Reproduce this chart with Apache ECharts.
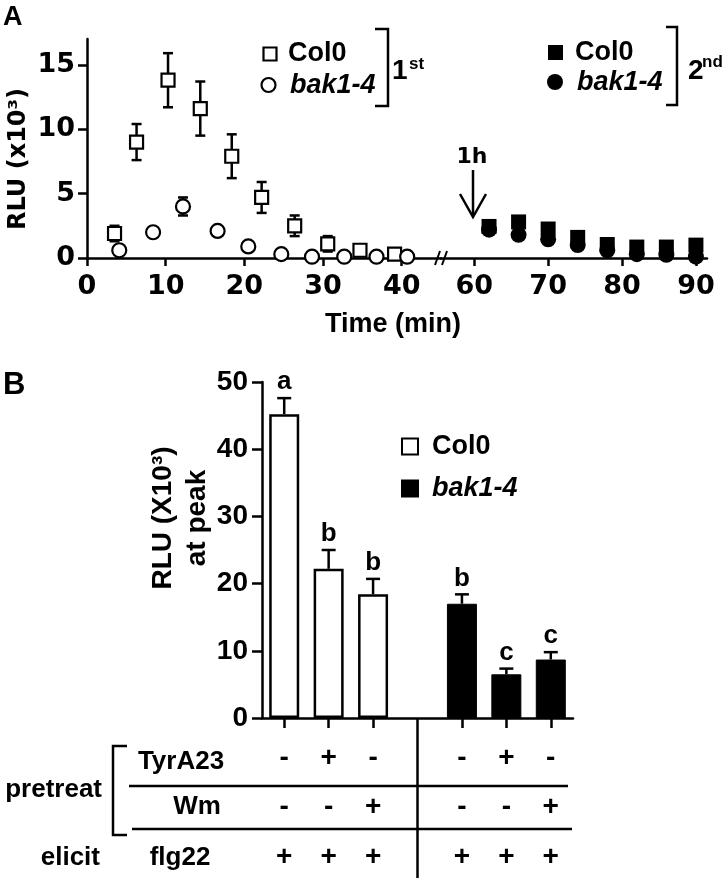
<!DOCTYPE html>
<html>
<head>
<meta charset="utf-8">
<script src="https://cdn.jsdelivr.net/npm/echarts@6/dist/echarts.min.js"></script>
<style>
  html, body { margin: 0; background: #fff; }
  #chart { width: 728px; height: 881px; }
</style>
</head>
<body>
<div id="chart"></div>
<script>
// ---- panel A: ROS time course, RLU (x10^3) vs time (min)
const col0FirstTime = [3.5, 6.3, 10.3, 14.4, 18.4, 22.2, 26.4, 30.6, 34.7, 39.1];
const col0FirstRlu = [1.9, 9.0, 13.8, 11.6, 7.9, 4.7, 2.5, 1.1, 0.6, 0.3];
const col0FirstErr = [0.6, 1.4, 2.1, 2.1, 1.7, 1.2, 0.8, 0.6, 0.2, 0.1];
const bakFirstTime = [4.1, 8.4, 12.2, 16.6, 20.5, 24.7, 28.6, 32.7, 36.8, 40.7];
const bakFirstRlu = [0.6, 2.0, 4.0, 2.1, 0.9, 0.3, 0.1, 0.1, 0.1, 0.1];
const bakFirstErr = [0.1, 0.2, 0.7, 0.2, 0.2, 0.1, 0, 0, 0, 0];
const secondTime = [62, 66, 70, 74, 78, 82, 86, 90];
const col0SecondRlu = [2.45, 2.8, 2.25, 1.6, 1.05, 0.85, 0.85, 1.0];
const bakSecondRlu = [2.2, 1.8, 1.45, 1.0, 0.6, 0.3, 0.25, 0.1];
const timeTicksFirst = [0, 10, 20, 30, 40];
const timeTicksSecond = [60, 70, 80, 90];
const rluTicksA = [0, 5, 10, 15];

// ---- panel B: RLU at peak, 7 slots (4th is the gap between genotypes)
const barSlots = ['c1', 'c2', 'c3', 'gap', 'k1', 'k2', 'k3'];
const peakCol0 = [45.2, 22.2, 18.4];
const peakCol0Err = [2.4, 2.8, 2.3];
const peakCol0Letters = ['a', 'b', 'b'];
const peakBak = [17.0, 6.5, 8.7];
const peakBakErr = [1.4, 0.85, 1.1];
const peakBakLetters = ['b', 'c', 'c'];
const tyrRow = ['-', '+', '-', '', '-', '+', '-'];
const wmRow = ['-', '-', '+', '', '-', '-', '+'];
const flgRow = ['+', '+', '+', '', '+', '+', '+'];

const SANS = 'Liberation Sans';
const WIDE = 'DejaVu Sans';
const BLACK = '#000';

const chart = echarts.init(document.getElementById('chart'), null, { renderer: 'canvas' });

function pairs(xs, ys, es) {
  return xs.map((x, i) => es ? [x, ys[i], es[i]] : [x, ys[i]]);
}

// two-sided error bar with caps (panel A)
function errBarA(params, api) {
  const x = api.value(0), y = api.value(1), e = api.value(2);
  if (!e) return null;
  const hi = api.coord([x, y + e]);
  const lo = api.coord([x, y - e]);
  const w = 5;
  const st = { stroke: BLACK, lineWidth: 2.5 };
  return {
    type: 'group',
    children: [
      { type: 'line', shape: { x1: hi[0], y1: hi[1], x2: lo[0], y2: lo[1] }, style: st },
      { type: 'line', shape: { x1: hi[0] - w, y1: hi[1], x2: hi[0] + w, y2: hi[1] }, style: st },
      { type: 'line', shape: { x1: lo[0] - w, y1: lo[1], x2: lo[0] + w, y2: lo[1] }, style: st }
    ]
  };
}

// upward error bar + significance letter (panel B)
const errB = [];
const lettersB = [];
peakCol0.forEach((v, i) => { errB.push([barSlots[i], v, peakCol0Err[i]]); lettersB.push(peakCol0Letters[i]); });
peakBak.forEach((v, i) => { errB.push([barSlots[i + 4], v, peakBakErr[i]]); lettersB.push(peakBakLetters[i]); });

function errBarB(params, api) {
  const x = api.value(0), y = api.value(1), e = api.value(2);
  const top = api.coord([x, y]);
  const cap = api.coord([x, y + e]);
  const w = 7;
  const st = { stroke: BLACK, lineWidth: 2.5 };
  return {
    type: 'group',
    children: [
      { type: 'line', shape: { x1: top[0], y1: top[1], x2: cap[0], y2: cap[1] }, style: st },
      { type: 'line', shape: { x1: cap[0] - w, y1: cap[1], x2: cap[0] + w, y2: cap[1] }, style: st },
      {
        type: 'text', x: cap[0], y: cap[1] - 3,
        style: {
          text: lettersB[params.dataIndex], fill: BLACK, fontSize: 26, fontWeight: 'bold',
          fontFamily: SANS, align: 'center', verticalAlign: 'bottom'
        }
      }
    ]
  };
}

const axisLineA = { lineStyle: { color: BLACK, width: 2.5 } };
const tickLabelA = { color: BLACK, fontFamily: WIDE, fontWeight: 'bold', fontSize: 27 };

function rowAxis(row, offset) {
  return {
    gridIndex: 2, type: 'category', data: barSlots, position: 'bottom', offset: offset,
    axisLine: { show: false }, axisTick: { show: false }, splitLine: { show: false },
    axisLabel: {
      interval: 0, margin: 0, verticalAlign: 'middle',
      formatter: (v, i) => row[i],
      color: BLACK, fontFamily: SANS, fontWeight: 'bold', fontSize: 28
    }
  };
}

const col0Bars = barSlots.map((s, i) => (i < 3 ? peakCol0[i] : '-'));
const bakBars = barSlots.map((s, i) => (i > 3 ? peakBak[i - 4] : '-'));

const option = {
  animation: false,
  backgroundColor: '#fff',
  grid: [
    { left: 87, top: 39, width: 354, height: 219 },
    { left: 441, top: 39, width: 266, height: 219 },
    { left: 262, top: 382, width: 311, height: 336 }
  ],
  legend: {
    data: ['Col0', 'bak1-4'],
    orient: 'vertical',
    left: 396, top: 428,
    itemWidth: 16, itemHeight: 16, itemGap: 15,
    icon: 'rect',
    selectedMode: false,
    formatter: n => (n === 'bak1-4' ? '{i|bak1-4}' : n),
    textStyle: {
      color: BLACK, fontFamily: SANS, fontWeight: 'bold', fontSize: 27, padding: [0, 0, 0, 9],
      rich: { i: { fontStyle: 'italic', fontWeight: 'bold', fontSize: 27, fontFamily: SANS, color: BLACK } }
    }
  },
  xAxis: [
    {
      gridIndex: 0, type: 'value', min: 0, max: 45,
      axisLine: axisLineA,
      axisTick: { show: true, length: 8, customValues: timeTicksFirst, lineStyle: { color: BLACK, width: 2.5 } },
      axisLabel: Object.assign({ customValues: timeTicksFirst, margin: 15 }, tickLabelA),
      splitLine: { show: false }
    },
    {
      gridIndex: 1, type: 'value', min: 55.5, max: 91.5,
      axisLine: axisLineA,
      axisTick: { show: true, length: 8, customValues: timeTicksSecond, lineStyle: { color: BLACK, width: 2.5 } },
      axisLabel: Object.assign({ customValues: timeTicksSecond, margin: 15 }, tickLabelA),
      splitLine: { show: false }
    },
    {
      gridIndex: 2, type: 'category', data: barSlots, boundaryGap: true,
      axisLine: { lineStyle: { color: BLACK, width: 2.5 } },
      axisTick: {
        show: true, alignWithLabel: true, length: 10,
        interval: (i) => i !== 3,
        lineStyle: { color: BLACK, width: 2.5 }
      },
      axisLabel: { show: false },
      splitLine: { show: false }
    },
    rowAxis(tyrRow, 40),
    rowAxis(wmRow, 89),
    rowAxis(flgRow, 139)
  ],
  yAxis: [
    {
      gridIndex: 0, type: 'value', min: 0, max: 17,
      axisLine: { show: true, lineStyle: { color: BLACK, width: 2.5 } },
      axisTick: { show: true, length: 9, customValues: rluTicksA, lineStyle: { color: BLACK, width: 2.5 } },
      axisLabel: Object.assign({ customValues: rluTicksA, margin: 12 }, tickLabelA),
      splitLine: { show: false }
    },
    { gridIndex: 1, type: 'value', min: 0, max: 17, show: false, splitLine: { show: false } },
    {
      gridIndex: 2, type: 'value', min: 0, max: 50, interval: 10,
      axisLine: { show: true, lineStyle: { color: BLACK, width: 2.5 } },
      axisTick: { show: true, length: 10, lineStyle: { color: BLACK, width: 2.5 } },
      axisLabel: { color: BLACK, fontFamily: SANS, fontWeight: 'bold', fontSize: 28, margin: 14 },
      splitLine: { show: false }
    }
  ],
  series: [
    {
      name: 'err Col0 1st', type: 'custom', xAxisIndex: 0, yAxisIndex: 0, z: 1,
      encode: { x: 0, y: 1 }, renderItem: errBarA,
      data: pairs(col0FirstTime, col0FirstRlu, col0FirstErr)
    },
    {
      name: 'err bak1-4 1st', type: 'custom', xAxisIndex: 0, yAxisIndex: 0, z: 1,
      encode: { x: 0, y: 1 }, renderItem: errBarA,
      data: pairs(bakFirstTime, bakFirstRlu, bakFirstErr)
    },
    {
      name: 'Col0 1st', type: 'scatter', xAxisIndex: 0, yAxisIndex: 0, z: 3,
      symbol: 'rect', symbolSize: 13,
      itemStyle: { color: '#fff', borderColor: BLACK, borderWidth: 2.2, opacity: 1 },
      data: pairs(col0FirstTime, col0FirstRlu)
    },
    {
      name: 'bak1-4 1st', type: 'scatter', xAxisIndex: 0, yAxisIndex: 0, z: 4,
      symbol: 'circle', symbolSize: 14,
      itemStyle: { color: '#fff', borderColor: BLACK, borderWidth: 2.2, opacity: 1 },
      data: pairs(bakFirstTime, bakFirstRlu)
    },
    {
      name: 'Col0 2nd', type: 'scatter', xAxisIndex: 1, yAxisIndex: 1, z: 3,
      symbol: 'rect', symbolSize: 15,
      itemStyle: { color: BLACK, opacity: 1 },
      data: pairs(secondTime, col0SecondRlu)
    },
    {
      name: 'bak1-4 2nd', type: 'scatter', xAxisIndex: 1, yAxisIndex: 1, z: 4,
      symbol: 'circle', symbolSize: 16,
      itemStyle: { color: BLACK, opacity: 1 },
      data: pairs(secondTime, bakSecondRlu)
    },
    {
      name: 'Col0', type: 'bar', xAxisIndex: 2, yAxisIndex: 2, barWidth: 30, barGap: '-100%',
      itemStyle: { color: '#fff', borderColor: BLACK, borderWidth: 2.5 },
      data: col0Bars
    },
    {
      name: 'bak1-4', type: 'bar', xAxisIndex: 2, yAxisIndex: 2, barWidth: 30, barGap: '-100%',
      itemStyle: { color: BLACK, borderColor: BLACK, borderWidth: 1 },
      data: bakBars
    },
    {
      name: 'err peak', type: 'custom', xAxisIndex: 2, yAxisIndex: 2, z: 5,
      encode: { x: 0, y: 1 }, renderItem: errBarB,
      data: errB
    }
  ]
};

chart.setOption(option);

// decorations: panel letters, legends with brackets, arrow, axis titles, treatment table
function txt(text, x, y, size, opts) {
  return {
    type: 'text', x: x, y: y, rotation: (opts && opts.rotation) || 0,
    style: Object.assign({
      text: text, fill: BLACK, fontFamily: SANS, fontWeight: 'bold', fontSize: size,
      align: 'left', verticalAlign: 'middle'
    }, opts && opts.style)
  };
}
function line(x1, y1, x2, y2, w) {
  return { type: 'line', shape: { x1, y1, x2, y2 }, style: { stroke: BLACK, lineWidth: w || 2.5 } };
}
function poly(points, w) {
  return { type: 'polyline', shape: { points }, style: { stroke: BLACK, lineWidth: w || 2.5, fill: null } };
}

const gapX = chart.convertToPixel({ xAxisIndex: 2 }, 'gap');
const axisBY = chart.convertToPixel({ yAxisIndex: 2 }, 0);
const breakX = chart.convertToPixel({ xAxisIndex: 1 }, 55.5);
const axisAY = chart.convertToPixel({ yAxisIndex: 0 }, 0);

const graphics = [
  txt('A', 3, 18, 27),
  txt('B', 3, 385, 31),
  // y title panel A
  txt('RLU (x10³)', 19, 159, 24, { rotation: Math.PI / 2, style: { fontFamily: WIDE, align: 'center' } }),
  // x title panel A
  txt('Time (min)', 393, 325, 27, { style: { align: 'center' } }),
  // axis break marks
  line(breakX - 6, axisAY + 7, breakX - 1, axisAY - 7, 2),
  line(breakX + 1, axisAY + 7, breakX + 6, axisAY - 7, 2),
  // legend 1st
  { type: 'rect', shape: { x: 263.5, y: 47.5, width: 13, height: 13 }, style: { fill: '#fff', stroke: BLACK, lineWidth: 2.2 } },
  { type: 'circle', shape: { cx: 268.5, cy: 85, r: 7 }, style: { fill: '#fff', stroke: BLACK, lineWidth: 2.2 } },
  txt('Col0', 288, 54, 27),
  txt('bak1-4', 290, 86, 27, { style: { fontStyle: 'italic' } }),
  poly([[375, 29], [388, 29], [388, 106], [375, 106]]),
  txt('1', 392, 71, 28),
  txt('st', 409, 64, 17),
  // legend 2nd
  { type: 'rect', shape: { x: 548, y: 45, width: 15, height: 15 }, style: { fill: BLACK } },
  { type: 'circle', shape: { cx: 555, cy: 82, r: 8 }, style: { fill: BLACK } },
  txt('Col0', 575, 53, 27),
  txt('bak1-4', 577, 83, 27, { style: { fontStyle: 'italic' } }),
  poly([[666, 27], [677, 27], [677, 105], [666, 105]]),
  txt('2', 688, 71, 28),
  txt('nd', 702, 62, 17),
  // 1h arrow
  txt('1h', 472, 157, 22, { style: { fontFamily: WIDE, align: 'center' } }),
  line(473, 170, 473, 216),
  poly([[460, 194], [473, 217], [486, 194]]),
  // y title panel B
  {
    type: 'text', x: 180, y: 518, rotation: Math.PI / 2,
    style: {
      text: 'RLU (X10³)\nat peak', fill: BLACK, fontFamily: SANS, fontWeight: 'bold', fontSize: 28,
      lineHeight: 34, align: 'center', verticalAlign: 'middle'
    }
  },
  // treatment table
  txt('pretreat', 102, 790, 26, { style: { align: 'right' } }),
  txt('elicit', 100, 858, 26, { style: { align: 'right' } }),
  txt('TyrA23', 181, 762, 26, { style: { align: 'center' } }),
  txt('Wm', 197, 807, 26, { style: { align: 'center' } }),
  txt('flg22', 180, 858, 26, { style: { align: 'center' } }),
  poly([[127, 746], [113, 746], [113, 835], [127, 835]]),
  line(129, 786, 568, 786),
  line(132, 829, 572, 829),
  line(gapX, axisBY, gapX, 878)
];

chart.setOption({ graphic: graphics });
</script>
</body>
</html>
